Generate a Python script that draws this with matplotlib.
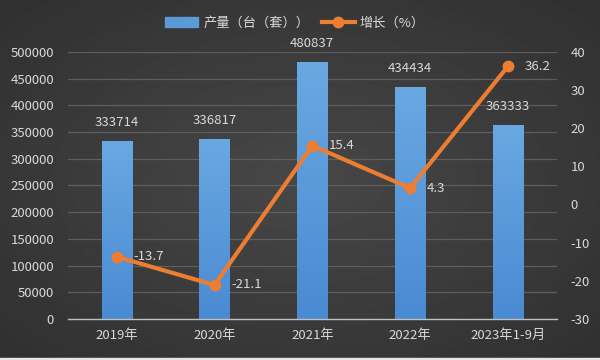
import matplotlib.pyplot as plt
import matplotlib.patches as mpatches
from matplotlib.colors import LinearSegmentedColormap
import numpy as np

plt.rcParams['font.family'] = ['Noto Sans CJK SC', 'DejaVu Sans']
plt.rcParams['axes.unicode_minus'] = False

categories = ['2019年', '2020年', '2021年', '2022年', '2023年1-9月']
output = [333714, 336817, 480837, 434434, 363333]
growth = [-13.7, -21.1, 15.4, 4.3, 36.2]

txt = '#d9d9d9'
fs = 9.5
fig = plt.figure(figsize=(6, 3.6), dpi=100)

# dark radial gradient background
bg = fig.add_axes([0, 0, 1, 1], zorder=-10)
yy, xx = np.mgrid[0:1:200j, 0:1:300j]
r = np.sqrt((xx - 0.5) ** 2 + (yy - 0.5) ** 2)
bg.imshow(0.28 - 0.13 * r, cmap='gray', vmin=0, vmax=1, aspect='auto', extent=[0, 1, 0, 1])
bg.axis('off')
# light strip along the bottom edge
fig.patches.append(mpatches.Rectangle((0, 0), 1, 0.006, transform=fig.transFigure,
                                      color='#e6e6e6', zorder=5))

ax = fig.add_axes([0.113, 0.114, 0.815, 0.742])
ax.set_facecolor('none')
x = np.arange(len(categories))
bars = ax.bar(x, output, width=0.31, color='#5b9bd5', zorder=2)

# vertical gradient on the bars
grad = np.linspace(0, 1, 100).reshape(-1, 1)
bar_cmap = LinearSegmentedColormap.from_list('bar', ['#4a8ad2', '#6aa8e2'])
for b in bars:
    bx, by = b.get_x(), b.get_y()
    im = ax.imshow(grad, cmap=bar_cmap, aspect='auto', origin='lower', zorder=2.1,
                   extent=[bx, bx + b.get_width(), by, by + b.get_height()])
    im.set_clip_path(b)
ax.set_xlim(-0.5, len(categories) - 0.5)
ax.set_ylim(0, 500000)
ax.set_yticks(range(0, 500001, 50000))

ax.set_xticks(x)
ax.set_xticklabels(categories)
ax.grid(axis='y', color='#5e5e5e', linewidth=0.9, zorder=0)
for s in ['top', 'left', 'right']:
    ax.spines[s].set_visible(False)
ax.spines['bottom'].set_color('#bfbfbf')
ax.spines['bottom'].set_linewidth(1.0)
ax.tick_params(colors=txt, labelsize=fs, length=0)
ax.tick_params(axis='y', pad=10)
ax.tick_params(axis='x', pad=7)
for xi, v in zip(x, output):
    ax.text(xi, v + 34000, str(v), ha='center', va='center', color=txt, fontsize=fs,
            clip_on=False)

ax2 = ax.twinx()
ax2.set_ylim(-30, 40)
ax2.set_yticks(range(-30, 41, 10))
ax2.plot(x, growth, color='#ed7d31', linewidth=3, marker='o', markersize=7.5, zorder=3)
for s in ['top', 'left', 'right', 'bottom']:
    ax2.spines[s].set_visible(False)
ax2.tick_params(colors=txt, labelsize=fs, length=0, pad=10)
for xi, v in zip(x, growth):
    ax2.text(xi + 0.17, v, f'{v}', ha='left', va='center', color=txt, fontsize=fs)

legend_bar = mpatches.Patch(color='#5b9bd5')
fig.legend([legend_bar, ax2.lines[0]], ['产量（台（套））', '增长（%）'], loc='center',
           bbox_to_anchor=(0.492, 0.936), ncol=2, frameon=False, labelcolor=txt, fontsize=fs,
           handlelength=2.5, handletextpad=0.4, columnspacing=0.9)

fig.savefig('out.png', dpi=100)
